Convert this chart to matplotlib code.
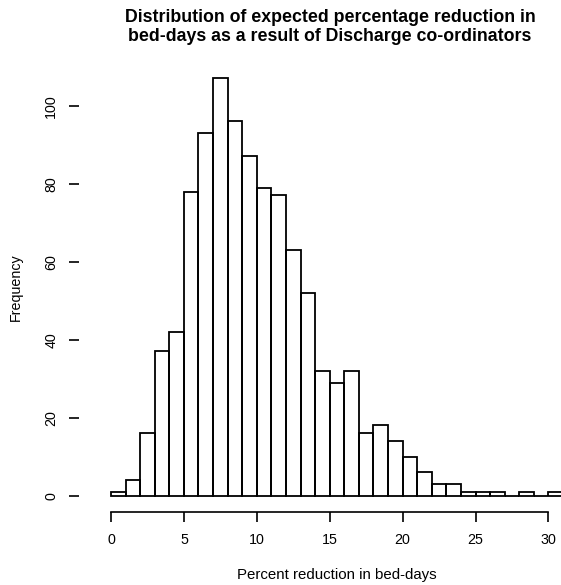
import matplotlib
matplotlib.use("Agg")
import matplotlib.pyplot as plt
import numpy as np

# Data (bins of width 1 from 0 to 31)
bin_edges = list(range(0, 32))
counts = [1, 4, 16, 37, 42, 78, 93, 107, 96, 87, 79, 77, 63, 52, 32,
          29, 32, 16, 18, 14, 10, 6, 3, 3, 1, 1, 1, 0, 1, 0, 1]
x_ticks = [0, 5, 10, 15, 20, 25, 30]
y_ticks = [0, 20, 40, 60, 80, 100]
title = "Distribution of expected percentage reduction in\nbed-days as a result of Discharge co-ordinators"
xlabel = "Percent reduction in bed-days"
ylabel = "Frequency"

plt.rcParams['font.family'] = ['Liberation Sans', 'DejaVu Sans']

W, H = 561, 585
fig = plt.figure(figsize=(W / 100, H / 100), dpi=100)

# axes placement in pixels
x0_px, px_per_x = 111.0, 14.58
y0_px, px_per_y = 495.7, 3.9
xlim = (-1.24, 32.24)
ylim = (-4.28, 111.28)
left = x0_px + xlim[0] * px_per_x
right = x0_px + xlim[1] * px_per_x
top = y0_px - ylim[1] * px_per_y
bottom = y0_px - ylim[0] * px_per_y
ax = fig.add_axes([left / W, 1 - bottom / H, (right - left) / W, (bottom - top) / H])

lefts = np.array(bin_edges[:-1])
widths = np.diff(bin_edges)
ax.bar(lefts, counts, width=widths, align='edge', fill=False,
       edgecolor='black', linewidth=1.3)

ax.set_xlim(*xlim)
ax.set_ylim(*ylim)

for s in ['top', 'right']:
    ax.spines[s].set_visible(False)
ax.spines['left'].set_position(('outward', 10))
ax.spines['left'].set_visible(False)
ax.spines['bottom'].set_bounds(x_ticks[0], x_ticks[-1])
ax.spines['bottom'].set_linewidth(1.2)

ax.set_xticks(x_ticks)
ax.set_yticks(y_ticks)
ax.tick_params(axis='both', direction='out', length=7.5, width=1.2,
               labelsize=10.3, pad=7.5)
for lab in ax.get_yticklabels():
    lab.set_rotation(90)
    lab.set_va('center')

ax.set_xlabel(xlabel, fontsize=10.8, labelpad=15)
ax.set_ylabel(ylabel, fontsize=10.3, labelpad=15)

fig.text(330 / W, 1 - 27 / H, title, ha='center', va='center',
         fontsize=12.8, fontweight='bold', linespacing=1.15)

fig.savefig("out.png", dpi=100)
